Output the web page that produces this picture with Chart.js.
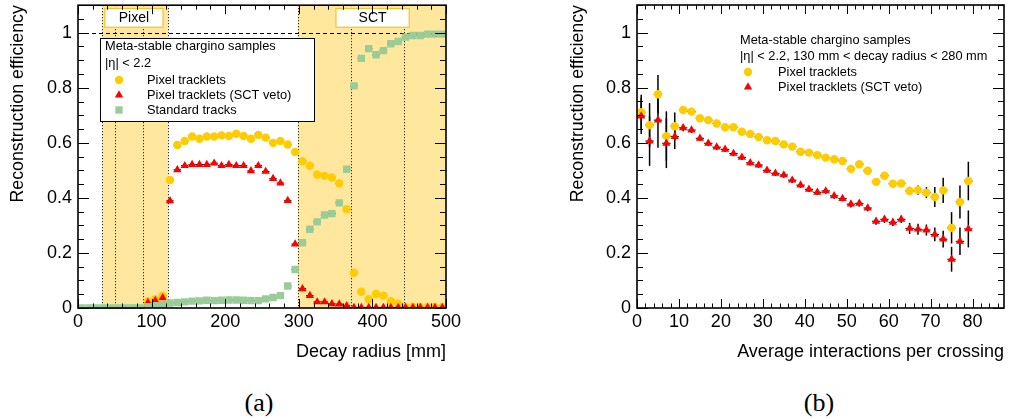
<!DOCTYPE html>
<html>
<head>
<meta charset="utf-8">
<script src="https://cdn.jsdelivr.net/npm/chart.js@4.4.1/dist/chart.umd.min.js"></script>
<style>
  body { margin: 0; background: #fff; width: 1009px; height: 419px; position: relative; overflow: hidden; }
  .panel { position: absolute; top: 0; }
  .cap { position: absolute; top: 386px; width: 60px; text-align: center; line-height: 34px;
         font-family: "Liberation Serif", "DejaVu Serif", serif; font-size: 26px; color: #000; }
</style>
</head>
<body>
<div class="panel" style="left:0"><canvas id="chartA" width="520" height="370"></canvas></div>
<div class="panel" style="left:560px"><canvas id="chartB" width="449" height="370"></canvas></div>
<div class="cap" style="left:229px">(a)</div>
<div class="cap" style="left:789px">(b)</div>
<script>
// (a) efficiency vs decay radius, 10 mm bins
const radiusBins = [5, 15, 25, 35, 45, 55, 65, 75, 85, 95, 105, 115, 125, 135, 145, 155, 165, 175, 185, 195,
  205, 215, 225, 235, 245, 255, 265, 275, 285, 295, 305, 315, 325, 335, 345, 355, 365, 375, 385, 395,
  405, 415, 425, 435, 445, 455, 465, 475, 485, 495];
const tracklets = [null, null, null, null, null, null, null, null, null, 0.025, 0.032, 0.045, 0.465, 0.592, 0.607, 0.623, 0.615, 0.623, 0.623, 0.627,
  0.625, 0.633, 0.625, 0.615, 0.629, 0.619, 0.600, 0.607, 0.594, 0.567, 0.533, 0.517, 0.485, 0.480, 0.474, 0.453, 0.359, 0.128, 0.059, 0.032,
  0.051, 0.045, 0.025, 0.016, 0.004, 0.004, 0.004, 0.004, 0.004, 0.004];
const trackletsVeto = [null, null, null, null, null, null, null, null, null, 0.020, 0.027, 0.037, 0.389, 0.502, 0.517, 0.521, 0.521, 0.521, 0.526, 0.517,
  0.521, 0.517, 0.517, 0.498, 0.517, 0.496, 0.470, 0.454, 0.390, 0.232, 0.070, 0.045, 0.022, 0.022, 0.015, 0.014, 0.008, 0.002, 0.002, 0.002,
  0.002, 0.002, 0.002, 0.002, 0.002, 0.002, 0.002, 0.002, 0.002, 0.002];
const standardTracks = [0, 0, 0, 0, 0, 0, 0, 0, 0, 0.005, 0.008, 0.012, 0.018, 0.020, 0.022, 0.025, 0.026, 0.028, 0.027, 0.028,
  0.029, 0.029, 0.028, 0.027, 0.027, 0.033, 0.038, 0.045, 0.080, 0.140, 0.237, 0.286, 0.313, 0.338, 0.343, 0.382, 0.504, 0.807, 0.907, 0.942,
  0.920, 0.935, 0.960, 0.968, 0.984, 0.990, 0.990, 0.995, 0.995, 0.995];
const radiusTicks = [0, 100, 200, 300, 400, 500];
const pixelLayers = [33.25, 50.5, 88.5, 122.5];
const sctLayers = [299, 371, 443];

// (b) efficiency vs pile-up, 2-unit bins
const muBins = [1, 3, 5, 7, 9, 11, 13, 15, 17, 19, 21, 23, 25, 27, 29, 31, 33, 35, 37, 39,
  41, 43, 45, 47, 49, 51, 53, 55, 57, 59, 61, 63, 65, 67, 69, 71, 73, 75, 77, 79];
const muTracklets = [0.711, 0.664, 0.776, 0.624, 0.660, 0.719, 0.713, 0.689, 0.682, 0.670, 0.656, 0.656, 0.640, 0.632, 0.621, 0.609, 0.606, 0.594, 0.586, 0.567,
  0.564, 0.555, 0.546, 0.540, 0.534, 0.505, 0.522, 0.498, 0.458, 0.480, 0.451, 0.452, 0.425, 0.428, 0.419, 0.403, 0.427, 0.291, 0.385, 0.461];
const muTrackletsErr = [0.063, 0.080, 0.070, 0.090, 0.050, 0.012, 0.010, 0.010, 0.010, 0.010, 0.010, 0.010, 0.010, 0.010, 0.010, 0.010, 0.010, 0.010, 0.010, 0.010,
  0.010, 0.010, 0.010, 0.010, 0.010, 0.012, 0.012, 0.012, 0.012, 0.012, 0.012, 0.012, 0.015, 0.017, 0.020, 0.036, 0.046, 0.057, 0.060, 0.070];
const muVeto = [0.697, 0.606, 0.682, 0.598, 0.622, 0.654, 0.646, 0.616, 0.598, 0.584, 0.576, 0.561, 0.547, 0.527, 0.519, 0.500, 0.489, 0.483, 0.464, 0.446,
  0.431, 0.420, 0.425, 0.407, 0.397, 0.377, 0.380, 0.363, 0.315, 0.322, 0.311, 0.322, 0.289, 0.286, 0.283, 0.267, 0.250, 0.177, 0.242, 0.287];
const muVetoErr = [0.065, 0.090, 0.100, 0.090, 0.045, 0.012, 0.010, 0.010, 0.010, 0.010, 0.010, 0.010, 0.010, 0.010, 0.010, 0.010, 0.010, 0.010, 0.010, 0.010,
  0.010, 0.010, 0.010, 0.010, 0.010, 0.012, 0.012, 0.012, 0.013, 0.013, 0.013, 0.013, 0.020, 0.020, 0.020, 0.025, 0.030, 0.045, 0.050, 0.067];
const muTicks = [0, 10, 20, 30, 40, 50, 60, 70, 80];

const effTicks = [0, 0.2, 0.4, 0.6, 0.8, 1];

const FONT = "'Liberation Sans', Arial, sans-serif";
Chart.defaults.font.family = FONT;
Chart.defaults.color = '#000';

const YELLOW = '#ffcc00', RED = '#ff0000', GREEN = '#99cc99', BAND = '#ffe89e';

function pointSet(label, xs, ys, color, style, radius, order, errX, errY) {
  return {
    label, order, errX, errY,
    data: xs.map((x, i) => ({ x, y: ys[i] })),
    pointStyle: style, pointRadius: radius, pointHoverRadius: radius,
    backgroundColor: color, pointBorderWidth: 0, borderWidth: 0, showLine: false
  };
}

// no extra room for half tick labels, the plot frame is placed by layout padding
function noPad(s) { s.paddingTop = 0; s.paddingBottom = 0; s.paddingLeft = 0; s.paddingRight = 0; }

function axes(xMax, xTicks, xTitle, yWidth) {
  return {
    x: {
      type: 'linear', min: 0, max: xMax,
      afterBuildTicks: s => { s.ticks = xTicks.map(v => ({ value: v })); },
      afterFit: s => { s.height = 62; noPad(s); },
      grid: { display: false, drawTicks: false }, border: { display: false },
      ticks: { padding: 3, autoSkip: false, maxRotation: 0, font: { size: 18 }, color: '#000', callback: v => String(v) },
      title: { display: true, text: xTitle, align: 'end', font: { size: 18 }, color: '#000', padding: { top: 0, bottom: 7 } }
    },
    y: {
      type: 'linear', min: 0, max: 1.1,
      afterBuildTicks: s => { s.ticks = effTicks.map(v => ({ value: v })); },
      afterFit: s => { s.width = yWidth; noPad(s); },
      grid: { display: false, drawTicks: false }, border: { display: false },
      ticks: { padding: 6, font: { size: 18 }, color: '#000', callback: v => String(+v.toFixed(1)) },
      title: { display: true, text: 'Reconstruction efficiency', align: 'end', font: { size: 17.8 }, color: '#000', padding: { top: 7, bottom: 0 } }
    }
  };
}

// error bars, drawn under the markers
const errorBars = {
  id: 'errorBars',
  beforeDatasetsDraw(chart) {
    const { ctx, scales: { x, y } } = chart;
    ctx.save();
    ctx.strokeStyle = '#000';
    chart.data.datasets.forEach(ds => {
      ds.data.forEach((p, i) => {
        if (p.y == null) return;
        const px = x.getPixelForValue(p.x), py = y.getPixelForValue(p.y);
        ctx.lineWidth = 1;
        ctx.beginPath();
        ctx.moveTo(x.getPixelForValue(p.x - ds.errX), py);
        ctx.lineTo(x.getPixelForValue(p.x + ds.errX), py);
        ctx.stroke();
        if (ds.errY) {
          ctx.lineWidth = 1.5;
          ctx.beginPath();
          ctx.moveTo(px, y.getPixelForValue(p.y - ds.errY[i]));
          ctx.lineTo(px, y.getPixelForValue(p.y + ds.errY[i]));
          ctx.stroke();
        }
      });
    });
    ctx.restore();
  }
};

// ROOT style frame with ticks pointing inwards
const frameTicks = {
  id: 'frameTicks',
  afterDatasetsDraw(chart, args, o) {
    const { ctx, chartArea: a, scales: { x, y } } = chart;
    ctx.save();
    ctx.strokeStyle = '#000';
    ctx.lineWidth = 1;
    ctx.beginPath();
    for (let k = 0; k * o.xMinor <= x.max + 1e-9; k++) {
      const px = Math.round(x.getPixelForValue(k * o.xMinor)) + 0.5;
      const len = (k % o.xSub === 0) ? 9 : 4.5;
      ctx.moveTo(px, a.bottom); ctx.lineTo(px, a.bottom - len);
      ctx.moveTo(px, a.top); ctx.lineTo(px, a.top + len);
    }
    for (let k = 0; k * 0.05 <= y.max + 1e-9; k++) {
      const py = Math.round(y.getPixelForValue(k * 0.05)) + 0.5;
      const len = (k % 4 === 0) ? 11 : 6;
      ctx.moveTo(a.left, py); ctx.lineTo(a.left + len, py);
      ctx.moveTo(a.right, py); ctx.lineTo(a.right - len, py);
    }
    ctx.stroke();
    ctx.lineWidth = 1.6;
    ctx.strokeRect(a.left, a.top, a.width, a.height);
    ctx.restore();
  }
};

// Pixel / SCT regions
const detectorBands = {
  id: 'detectorBands',
  beforeDatasetsDraw(chart) {
    const { ctx, chartArea: a, scales: { x, y } } = chart;
    const X = v => x.getPixelForValue(v);
    ctx.save();
    ctx.fillStyle = BAND;
    ctx.fillRect(X(pixelLayers[0]), a.top, X(pixelLayers[3]) - X(pixelLayers[0]), a.height);
    ctx.fillRect(X(sctLayers[0]), a.top, a.right - X(sctLayers[0]), a.height);
    ctx.strokeStyle = '#000';
    ctx.lineWidth = 1;
    ctx.setLineDash([1, 2]);
    ctx.beginPath();
    pixelLayers.concat(sctLayers).forEach(r => {
      const px = Math.round(X(r)) + 0.5;
      ctx.moveTo(px, a.top); ctx.lineTo(px, a.bottom);
    });
    ctx.stroke();
    ctx.setLineDash([4, 3]);
    ctx.beginPath();
    const p1 = Math.round(y.getPixelForValue(1)) + 0.5;
    ctx.moveTo(a.left, p1); ctx.lineTo(a.right, p1);
    ctx.stroke();
    ctx.setLineDash([]);
    [['Pixel', 36.5, 115.5], ['SCT', 350.5, 450]].forEach(([t, r0, r1]) => {
      const x0 = X(r0), x1 = X(r1), y0 = y.getPixelForValue(1.088), y1 = y.getPixelForValue(1.02);
      ctx.fillStyle = '#fff';
      ctx.fillRect(x0, y0, x1 - x0, y1 - y0);
      ctx.strokeStyle = '#f2c230';
      ctx.lineWidth = 1.2;
      ctx.strokeRect(x0, y0, x1 - x0, y1 - y0);
      ctx.fillStyle = '#000';
      ctx.font = '14px ' + FONT;
      ctx.textAlign = 'center';
      ctx.textBaseline = 'middle';
      ctx.fillText(t, (x0 + x1) / 2, (y0 + y1) / 2 + 0.5);
    });
    ctx.restore();
  }
};

// legend with header lines
const legendBox = {
  id: 'legendBox',
  afterDatasetsDraw(chart, args, o) {
    const ctx = chart.ctx;
    ctx.save();
    if (o.box) {
      const [bx, by, bw, bh] = o.box;
      ctx.fillStyle = '#fff';
      ctx.fillRect(bx, by, bw, bh);
      ctx.strokeStyle = '#000';
      ctx.lineWidth = 1;
      ctx.strokeRect(bx + 0.5, by + 0.5, bw, bh);
    }
    ctx.font = '12.8px ' + FONT;
    ctx.textBaseline = 'middle';
    ctx.fillStyle = '#000';
    o.header.forEach((t, i) => ctx.fillText(t, o.x, o.rows[i]));
    chart.data.datasets.forEach((ds, i) => {
      const yy = o.rows[o.header.length + i];
      ctx.fillStyle = ds.backgroundColor;
      Chart.helpers.drawPoint(ctx, { pointStyle: ds.pointStyle, radius: ds.pointRadius, rotation: 0, borderWidth: 0 }, o.mx, yy);
      ctx.fillStyle = '#000';
      ctx.fillText(ds.label, o.tx, yy);
    });
    ctx.restore();
  }
};

new Chart(document.getElementById('chartA'), {
  type: 'scatter',
  data: {
    datasets: [
      pointSet('Pixel tracklets', radiusBins, tracklets, YELLOW, 'circle', 4.2, 3, 5),
      pointSet('Pixel tracklets (SCT veto)', radiusBins, trackletsVeto, RED, 'triangle', 4.8, 2, 5),
      pointSet('Standard tracks', radiusBins, standardTracks, GREEN, 'rect', 5.2, 1, 5)
    ]
  },
  options: {
    responsive: false, animation: false,
    layout: { padding: { left: 0, top: 5, right: 74, bottom: 0 } },
    scales: axes(500, radiusTicks, 'Decay radius [mm]', 78),
    plugins: {
      legend: { display: false }, tooltip: { enabled: false },
      frameTicks: { xMinor: 20, xSub: 5 },
      legendBox: { box: [100, 38, 214, 83], header: ['Meta-stable chargino samples', '|η| < 2.2'],
                   rows: [46, 63, 80, 95, 110], x: 105, mx: 119, tx: 147 }
    }
  },
  plugins: [detectorBands, errorBars, frameTicks, legendBox]
});

new Chart(document.getElementById('chartB'), {
  type: 'scatter',
  data: {
    datasets: [
      pointSet('Pixel tracklets', muBins, muTracklets, YELLOW, 'circle', 4.2, 2, 1, muTrackletsErr),
      pointSet('Pixel tracklets (SCT veto)', muBins, muVeto, RED, 'triangle', 4.8, 1, 1, muVetoErr)
    ]
  },
  options: {
    responsive: false, animation: false,
    layout: { padding: { left: 0, top: 5, right: 5, bottom: 0 } },
    scales: axes(87.5, muTicks, 'Average interactions per crossing', 77),
    plugins: {
      legend: { display: false }, tooltip: { enabled: false },
      frameTicks: { xMinor: 2, xSub: 5 },
      legendBox: { header: ['Meta-stable chargino samples', '|η| < 2.2, 130 mm < decay radius < 280 mm'],
                   rows: [40, 56, 72, 87], x: 180, mx: 188, tx: 218 }
    }
  },
  plugins: [errorBars, frameTicks, legendBox]
});
</script>
</body>
</html>
